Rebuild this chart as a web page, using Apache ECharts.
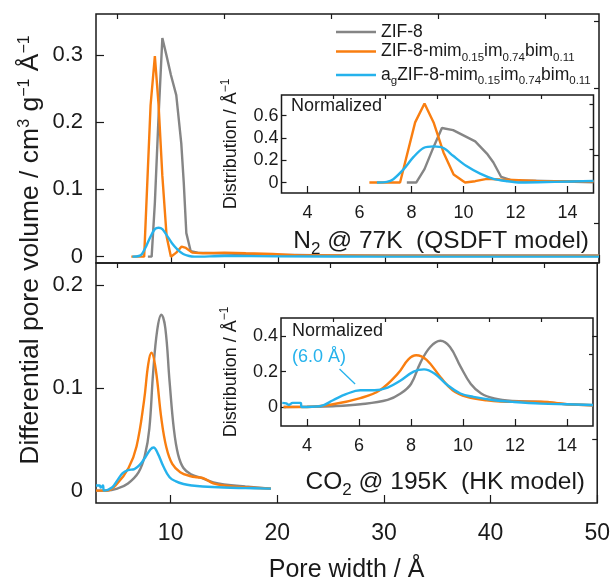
<!DOCTYPE html>
<html>
<head>
<meta charset="utf-8">
<script src="https://cdn.jsdelivr.net/npm/echarts@6/dist/echarts.min.js"></script>
<style>
  html, body { margin: 0; padding: 0; background: #fff; }
  #chart { width: 613px; height: 584px; }
</style>
</head>
<body>
<div id="chart"></div>
<script>
// ---- Pore size distributions: N2 @ 77 K (QSDFT) ----
const n2GrayX   = [7.85, 8.2, 8.5, 8.85, 9.2, 9.6, 10.0, 10.5, 10.97, 11.2, 11.44, 11.85, 12.5, 14, 17, 20, 25, 30, 35, 40, 45, 50];
const n2GrayY   = [0, 0, 0.08, 0.21, 0.325, 0.298, 0.27, 0.24, 0.168, 0.11, 0.035, 0.008, 0.006, 0.005, 0.004, 0.003, 0.002, 0.002, 0.002, 0.002, 0.002, 0.002];
const n2OrangeX = [6.3, 7.5, 8.1, 8.5, 8.85, 9.2, 9.6, 10.0, 10.5, 11.0, 11.4, 12.0, 13, 15, 17, 19.5, 22, 25, 30, 35, 40, 45, 50];
const n2OrangeY = [0, 0, 0.225, 0.298, 0.225, 0.12, 0.03, 0, 0.006, 0.015, 0.013, 0.006, 0.005, 0.006, 0.005, 0.004, 0.002, 0.002, 0.001, 0.001, 0.001, 0.001, 0.001];
const n2BlueX   = [6.4, 7.0, 7.3, 7.7, 8.1, 8.5, 8.85, 9.2, 9.6, 10.1, 10.6, 11.15, 11.7, 12.2, 15, 20, 30, 40, 50];
const n2BlueY   = [0, 0.001, 0.004, 0.016, 0.03, 0.041, 0.043, 0.041, 0.032, 0.02, 0.011, 0.004, 0.001, 0, 0.001, 0.0005, 0, 0, 0];

// Normalized N2 distributions
const n2NormGrayX   = [7.82, 8.18, 8.5, 8.85, 9.17, 9.6, 10.45, 10.9, 11.15, 11.45, 11.8, 12.2, 13.5, 15];
const n2NormGrayY   = [0, 0, 0.12, 0.32, 0.49, 0.47, 0.37, 0.26, 0.18, 0.05, 0.024, 0.018, 0.012, 0.003];
const n2NormOrangeX = [6.38, 7.56, 8.14, 8.5, 8.85, 9.23, 9.62, 10.06, 10.45, 10.9, 11.4, 11.9, 12.8, 14.1, 15];
const n2NormOrangeY = [0, 0, 0.54, 0.71, 0.54, 0.27, 0.072, 0, 0.012, 0.033, 0.027, 0.024, 0.015, 0.012, 0.012];
const n2NormBlueX   = [6.67, 7.05, 7.3, 7.7, 8.08, 8.46, 8.85, 9.23, 9.6, 10.1, 10.64, 11.15, 11.67, 12.2, 13.5, 15];
const n2NormBlueY   = [0, 0.006, 0.03, 0.12, 0.23, 0.31, 0.325, 0.31, 0.24, 0.15, 0.08, 0.033, 0.012, 0, 0.006, 0.015];

// ---- Pore size distributions: CO2 @ 195 K (HK) ----
const co2GrayX   = [3.0, 4.0, 5.0, 6.0, 7.0, 7.6, 8.0, 8.36, 8.74, 9.13, 9.5, 9.9, 10.3, 10.7, 11.2, 11.9, 13.0, 14.0, 15.0, 17.0, 19.4];
const co2GrayY   = [0, 0, 0.002, 0.007, 0.018, 0.035, 0.06, 0.115, 0.156, 0.171, 0.158, 0.106, 0.06, 0.035, 0.022, 0.016, 0.012, 0.008, 0.006, 0.004, 0.002];
const co2OrangeX = [3.0, 4.0, 5.0, 6.05, 6.8, 7.5, 7.9, 8.2, 8.6, 9.13, 9.6, 10.15, 10.9, 11.9, 12.5, 13.1, 14.0, 15.0, 17.0, 19.4];
const co2OrangeY = [0, 0, 0.007, 0.022, 0.043, 0.087, 0.123, 0.134, 0.118, 0.07, 0.042, 0.026, 0.018, 0.014, 0.013, 0.012, 0.007, 0.005, 0.003, 0.002];
const co2BlueX   = [3.0, 3.35, 3.45, 3.65, 3.75, 4.5, 5.0, 5.5, 6.0, 6.6, 7.1, 7.6, 8.1, 8.4, 8.8, 9.3, 9.9, 10.5, 11.2, 12.0, 13.0, 15.0, 17.0, 19.4];
const co2BlueY   = [0.005, 0.005, 0.003, 0.005, 0, 0.003, 0.01, 0.017, 0.02, 0.021, 0.025, 0.032, 0.04, 0.042, 0.036, 0.024, 0.013, 0.009, 0.0065, 0.005, 0.004, 0.003, 0.0025, 0.002];

// Normalized CO2 distributions
const co2NormGrayX   = [3.1, 4.0, 5.0, 6.05, 7.1, 7.6, 8.0, 8.36, 8.74, 9.13, 9.5, 9.9, 10.3, 10.7, 11.2, 11.9, 13.0, 14.0, 15.0];
const co2NormGrayY   = [0, 0.001, 0.004, 0.015, 0.04, 0.076, 0.13, 0.25, 0.34, 0.375, 0.34, 0.23, 0.13, 0.076, 0.048, 0.034, 0.029, 0.015, 0.01];
const co2NormOrangeX = [3.1, 4.0, 5.0, 6.05, 6.8, 7.5, 7.9, 8.2, 8.6, 9.13, 9.6, 10.15, 10.9, 11.9, 13.0, 14.0, 15.0];
const co2NormOrangeY = [0, 0, 0.015, 0.05, 0.095, 0.19, 0.27, 0.293, 0.267, 0.17, 0.095, 0.057, 0.038, 0.029, 0.029, 0.015, 0.01];
const co2NormBlueX   = [3.05, 3.2, 3.3, 3.45, 3.75, 3.8, 4.5, 5.0, 5.5, 6.05, 6.6, 7.1, 7.6, 8.1, 8.5, 8.9, 9.4, 9.9, 10.4, 11.2, 11.9, 13.0, 14.0, 15.0];
const co2NormBlueY   = [0.023, 0.02, 0.012, 0.023, 0.023, 0, 0.004, 0.038, 0.072, 0.095, 0.095, 0.11, 0.15, 0.2, 0.213, 0.19, 0.124, 0.076, 0.057, 0.038, 0.029, 0.019, 0.015, 0.011];

// Tick positions
const mainXMajor  = [10, 20, 30, 40, 50];
const mainXMinor  = [5, 15, 25, 35, 45];
const topYMajor   = [0, 0.1, 0.2, 0.3];
const topYMinor   = [0.05, 0.15, 0.25, 0.35];
const botYMajor   = [0, 0.1, 0.2];
const botYMinor   = [0.05, 0.15];
const insetXMajor = [4, 6, 8, 10, 12, 14];
const insetXMinor = [5, 7, 9, 11, 13];
const insN2YMajor = [0, 0.2, 0.4, 0.6];
const insN2YMinor = [0.1, 0.3, 0.5, 0.7];
const insCO2YMajor = [0, 0.2, 0.4];
const insCO2YMinor = [0.1, 0.3];

const seriesNames = ['ZIF-8', 'ZIF-8-mim0.15im0.74bim0.11', 'agZIF-8-mim0.15im0.74bim0.11'];
const colors = ['#858585', '#f97e10', '#25b2ec'];

const FONT = '"Liberation Sans", Arial, Helvetica, sans-serif';
const INK = '#1a1a1a';

function pairs(xs, ys) { return xs.map((x, i) => [x, ys[i]]); }
function fmt(v) { return String(+v.toFixed(2)); }

function axis(grid, min, max, ticks, len, label) {
  return {
    type: 'value', gridIndex: grid, min: min, max: max,
    axisLine: { show: false, onZero: false }, splitLine: { show: false },
    axisTick: { show: true, inside: true, length: len, customValues: ticks, lineStyle: { color: INK, width: 1.2 } },
    axisLabel: label ? Object.assign({ show: true, customValues: ticks, color: INK, fontFamily: FONT, formatter: fmt }, label) : { show: false }
  };
}

function line(name, xi, yi, xs, ys, color, extra) {
  return Object.assign({
    type: 'line', name: name, xAxisIndex: xi, yAxisIndex: yi,
    data: pairs(xs, ys), showSymbol: false, symbol: 'none',
    lineStyle: { color: color, width: 2.4 }, itemStyle: { color: color },
    animation: false, silent: true
  }, extra || {});
}

const smoothOpt = { smooth: 0.4 };

const xAxes = [
  axis(0, 3, 50, mainXMajor, 8),
  axis(0, 3, 50, mainXMinor, 5),
  Object.assign(axis(1, 3, 50, mainXMajor, 8, { fontSize: 23, margin: 19 }), {
    name: 'Pore width / Å', nameLocation: 'middle', nameGap: 55,
    nameTextStyle: { fontSize: 25, fontFamily: FONT, color: INK }
  }),
  axis(1, 3, 50, mainXMinor, 5),
  axis(2, 3, 15, insetXMajor, 7, { fontSize: 18, margin: 11 }),
  axis(2, 3, 15, insetXMinor, 4),
  axis(3, 3, 15, insetXMajor, 7, { fontSize: 18, margin: 11 }),
  axis(3, 3, 15, insetXMinor, 4)
];

const insetYName = {
  name: '{n|Distribution / Å}{s|−1}', nameLocation: 'middle', nameRotate: 90, nameGap: 38,
  nameTextStyle: {
    fontFamily: FONT, color: INK,
    rich: {
      n: { fontSize: 18, fontFamily: FONT, color: INK, lineHeight: 24 },
      s: { fontSize: 12, fontFamily: FONT, color: INK, verticalAlign: 'top' }
    }
  }
};

const yAxes = [
  axis(0, -0.0094, 0.3606, topYMajor, 8, { fontSize: 22, margin: 13 }),
  axis(0, -0.0094, 0.3606, topYMinor, 5),
  axis(1, -0.012, 0.2213, botYMajor, 8, { fontSize: 22, margin: 13 }),
  axis(1, -0.012, 0.2213, botYMinor, 5),
  Object.assign(axis(2, -0.094, 0.786, insN2YMajor, 5, { fontSize: 18, margin: 3 }), insetYName),
  axis(2, -0.094, 0.786, insN2YMinor, 4),
  Object.assign(axis(3, -0.108, 0.504, insCO2YMajor, 5, { fontSize: 18, margin: 3 }), insetYName),
  axis(3, -0.108, 0.504, insCO2YMinor, 4)
];

const frame = { show: true, borderColor: INK, borderWidth: 1.5, backgroundColor: 'transparent' };
const grids = [
  Object.assign({ left: 96, top: 14, width: 503, height: 249 }, frame),
  Object.assign({ left: 96, top: 263, width: 503, height: 250 }, frame),
  Object.assign({ left: 281.5, top: 95, width: 312, height: 98 }, frame),
  Object.assign({ left: 281, top: 318, width: 312, height: 108 }, frame)
];

const series = [
  // N2 main panel
  line(seriesNames[0], 0, 0, n2GrayX, n2GrayY, colors[0]),
  line(seriesNames[1], 0, 0, n2OrangeX, n2OrangeY, colors[1]),
  line(seriesNames[2], 0, 0, n2BlueX, n2BlueY, colors[2], { smooth: 0.3 }),
  // CO2 main panel
  line(seriesNames[0], 2, 2, co2GrayX, co2GrayY, colors[0], smoothOpt),
  line(seriesNames[1], 2, 2, co2OrangeX, co2OrangeY, colors[1], smoothOpt),
  line(seriesNames[2], 2, 2, co2BlueX, co2BlueY, colors[2], smoothOpt),
  // N2 normalized inset
  line(seriesNames[0], 4, 4, n2NormGrayX, n2NormGrayY, colors[0]),
  line(seriesNames[1], 4, 4, n2NormOrangeX, n2NormOrangeY, colors[1]),
  line(seriesNames[2], 4, 4, n2NormBlueX, n2NormBlueY, colors[2], { smooth: 0.3 }),
  // CO2 normalized inset
  line(seriesNames[0], 6, 6, co2NormGrayX, co2NormGrayY, colors[0], smoothOpt),
  line(seriesNames[1], 6, 6, co2NormOrangeX, co2NormOrangeY, colors[1], smoothOpt),
  line(seriesNames[2], 6, 6, co2NormBlueX, co2NormBlueY, colors[2], Object.assign({
    markLine: {
      silent: true, animation: false,
      symbol: ['none', 'arrow'], symbolSize: [0, 9],
      lineStyle: { color: colors[2], width: 1.3, type: 'solid' },
      label: { show: false },
      data: [[{ coord: [5.25, 0.215] }, { coord: [5.85, 0.13] }]]
    }
  }, smoothOpt))
];

const legendRich = {
  n: { fontSize: 17.5, fontFamily: FONT, color: INK, lineHeight: 24 },
  s: { fontSize: 11.5, fontFamily: FONT, color: INK, verticalAlign: 'bottom' }
};
const legendText = {
  'ZIF-8': '{n|ZIF-8}',
  'ZIF-8-mim0.15im0.74bim0.11': '{n|ZIF-8-mim}{s|0.15}{n|im}{s|0.74}{n|bim}{s|0.11}',
  'agZIF-8-mim0.15im0.74bim0.11': '{n|a}{s|g}{n|ZIF-8-mim}{s|0.15}{n|im}{s|0.74}{n|bim}{s|0.11}'
};
function legendRow(name, top) {
  return {
    data: [name], left: 336, top: top, orient: 'vertical', padding: 0,
    itemWidth: 40, itemHeight: 2.5, icon: 'rect', selectedMode: false,
    formatter: n => legendText[n],
    textStyle: { rich: legendRich, fontFamily: FONT, fontSize: 17.5, color: INK }
  };
}

const titleRich = {
  a: { fontSize: 24.5, fontFamily: FONT, fill: INK, lineHeight: 33 },
  b: { fontSize: 17, fontFamily: FONT, fill: INK, verticalAlign: 'bottom' }
};

const option = {
  animation: false,
  backgroundColor: '#fff',
  grid: grids,
  xAxis: xAxes,
  yAxis: yAxes,
  legend: [
    legendRow(seriesNames[0], 23),
    legendRow(seriesNames[1], 42.5),
    legendRow(seriesNames[2], 66)
  ],
  series: series,
  graphic: [
    {
      type: 'text', x: 31, y: 250, rotation: Math.PI / 2, silent: true,
      style: {
        text: '{n|Differential pore volume / cm}{s|3}{n| g}{s|−1}{n| Å}{s|−1}',
        align: 'center', verticalAlign: 'middle',
        rich: {
          n: { fontSize: 26.5, fontFamily: FONT, fill: INK, lineHeight: 29 },
          s: { fontSize: 16, fontFamily: FONT, fill: INK, verticalAlign: 'top' }
        }
      }
    },
    {
      type: 'text', x: 589, y: 241, silent: true,
      style: { text: '{a|N}{b|2}{a| @ 77K  (QSDFT model)}', align: 'right', verticalAlign: 'middle', rich: titleRich }
    },
    {
      type: 'text', x: 585, y: 482, silent: true,
      style: { text: '{a|CO}{b|2}{a| @ 195K  (HK model)}', align: 'right', verticalAlign: 'middle', rich: titleRich }
    },
    {
      type: 'text', x: 291, y: 106, silent: true,
      style: { text: 'Normalized', fontSize: 18, fontFamily: FONT, fill: INK, align: 'left', verticalAlign: 'middle' }
    },
    {
      type: 'text', x: 292, y: 331, silent: true,
      style: { text: 'Normalized', fontSize: 18, fontFamily: FONT, fill: INK, align: 'left', verticalAlign: 'middle' }
    },
    {
      type: 'text', x: 292, y: 357, silent: true,
      style: { text: '(6.0 Å)', fontSize: 18, fontFamily: FONT, fill: colors[2], align: 'left', verticalAlign: 'middle' }
    }
  ]
};

const chart = echarts.init(document.getElementById('chart'), null, { renderer: 'canvas' });
chart.setOption(option);
</script>
</body>
</html>
